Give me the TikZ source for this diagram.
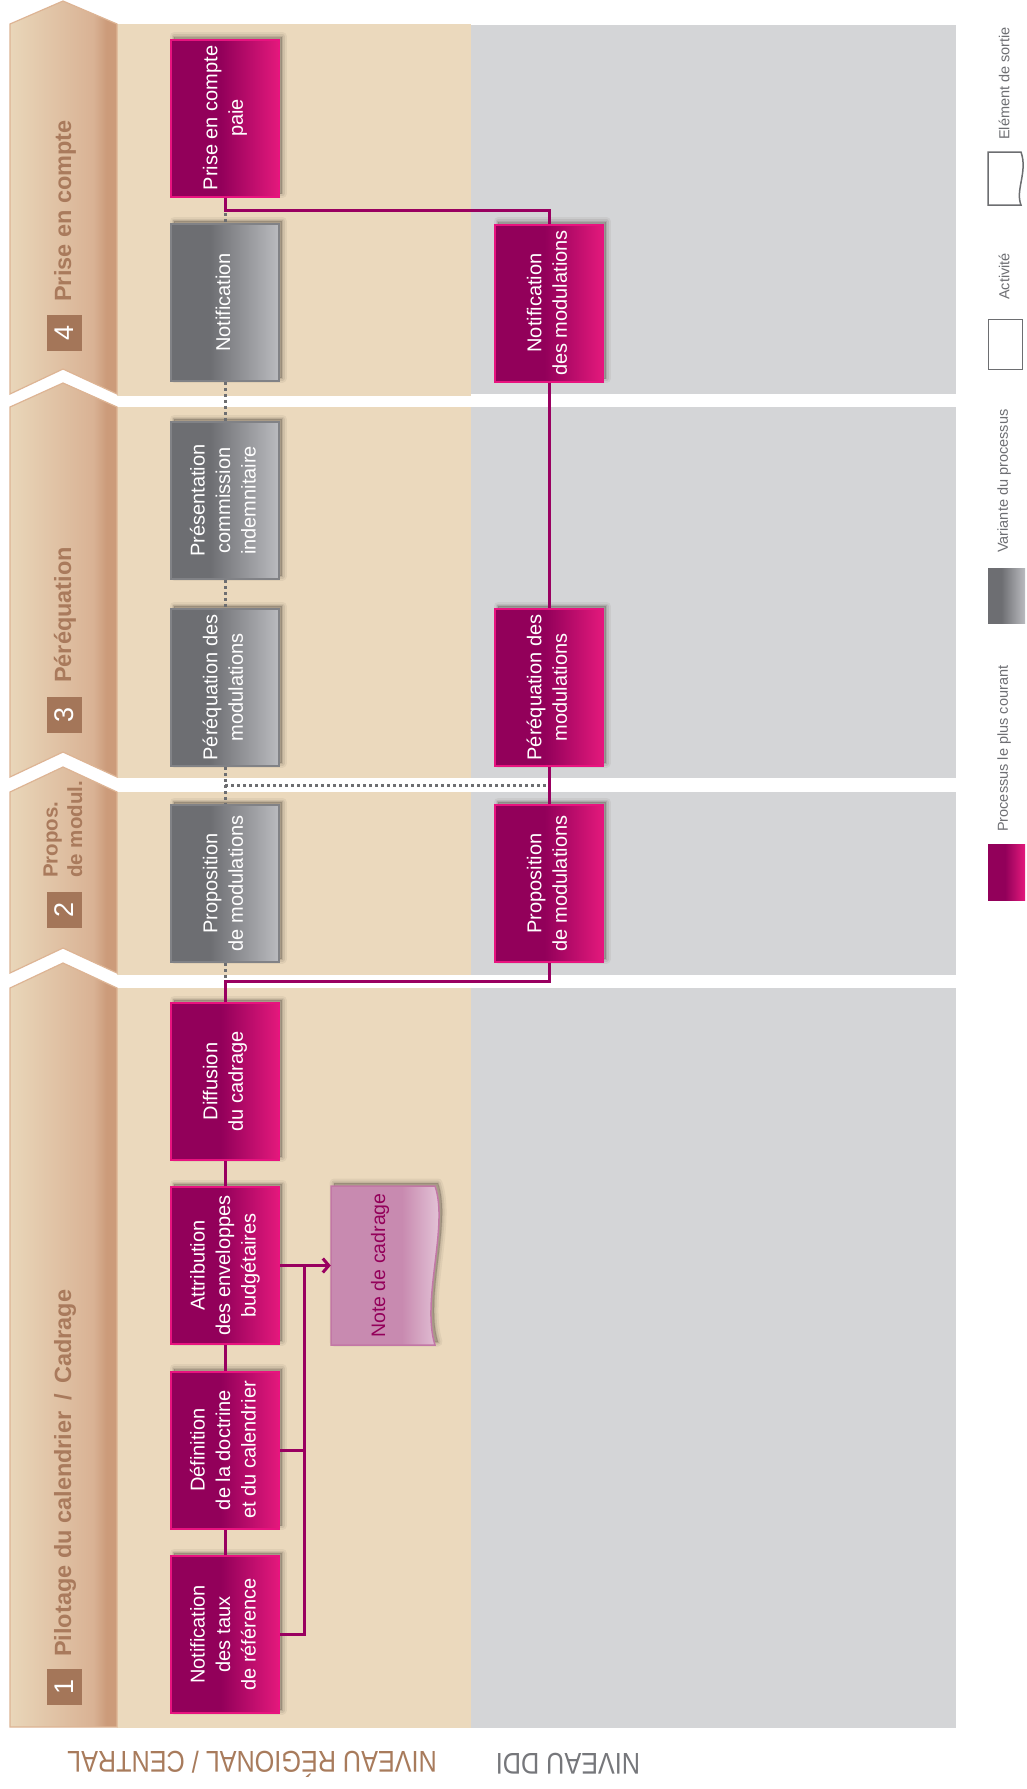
\documentclass[tikz,border=0pt]{standalone}
\usepackage{fontspec}
\setmainfont{Liberation Sans}
\newfontfamily\condfont[FakeStretch=0.84]{Liberation Sans}
\usepackage{graphicx}
\usetikzlibrary{arrows.meta,calc}

\definecolor{beige}{HTML}{EBD9BD}
\definecolor{bandgray}{HTML}{D4D5D7}
\definecolor{mgdark}{HTML}{92005A}
\definecolor{mglight}{HTML}{E3197C}
\definecolor{mgborder}{HTML}{E8137F}
\definecolor{mgline}{HTML}{990060}
\definecolor{grdark}{HTML}{6D6E72}
\definecolor{grlight}{HTML}{BABBBF}
\definecolor{grborder}{HTML}{818286}
\definecolor{dotgray}{HTML}{6D6E71}
\definecolor{chevA}{HTML}{E9D6B9}
\definecolor{chevB}{HTML}{D9B294}
\definecolor{chevC}{HTML}{CC9B7A}
\definecolor{chevedge}{HTML}{DDB494}
\definecolor{numbrown}{HTML}{A47659}
\definecolor{titlebrown}{HTML}{A97A5C}
\definecolor{levelbrown}{HTML}{A87B5C}
\definecolor{levelgray}{HTML}{76777B}
\definecolor{noteA}{HTML}{C88AB0}
\definecolor{noteB}{HTML}{EAD2E0}
\definecolor{noteedge}{HTML}{C277A6}
\definecolor{notetext}{HTML}{93005A}
\definecolor{legtext}{HTML}{6E6F73}
\definecolor{legedge}{HTML}{6D6E71}
\definecolor{shadowc}{HTML}{4A4038}

% horizontal fills: the path's box maps onto 25bp--75bp
\pgfdeclarehorizontalshading{mgshade}{100bp}{color(0bp)=(mgdark); color(25bp)=(mgdark); color(48bp)=(mgdark); color(75bp)=(mglight); color(100bp)=(mglight)}
\pgfdeclarehorizontalshading{grshade}{100bp}{color(0bp)=(grdark); color(25bp)=(grdark); color(43bp)=(grdark); color(75bp)=(grlight); color(100bp)=(grlight)}
\pgfdeclarehorizontalshading{chevshade}{100bp}{color(0bp)=(chevA); color(25bp)=(chevA); color(64bp)=(chevB); color(70bp)=(chevC); color(100bp)=(chevC)}
\pgfdeclarehorizontalshading{noteshade}{100bp}{color(0bp)=(noteA); color(25bp)=(noteA); color(55bp)=(noteA); color(75bp)=(noteB); color(100bp)=(noteB)}

\newcommand{\rt}[1]{\rotatebox{90}{\begin{tabular}{@{}c@{}}#1\end{tabular}}}

\begin{document}
\begin{tikzpicture}[x=1pt,y=-1pt,
  softshadow/.style={
    preaction={draw=shadowc, fill=shadowc, opacity=0.07, line width=9pt, line join=round,
      transform canvas={xshift=3pt, yshift=3pt}},
    preaction={draw=shadowc, fill=shadowc, opacity=0.10, line width=5pt, line join=round,
      transform canvas={xshift=3pt, yshift=3pt}},
    preaction={draw=shadowc, fill=shadowc, opacity=0.14, line width=1.5pt,
      transform canvas={xshift=3pt, yshift=3pt}}},
  box/.style={minimum width=108pt, minimum height=157pt, inner sep=0pt, text=white,
    font=\fontsize{20}{25.5}\selectfont, softshadow},
  mgbox/.style={box, draw=mgborder, line width=2pt, shade, shading=mgshade},
  grbox/.style={box, draw=grborder, line width=1.5pt, shade, shading=grshade},
  chev/.style={shade, shading=chevshade, draw=chevedge, line width=1.2pt},
  numsq/.style={fill=numbrown, text=white, minimum width=36pt, minimum height=35pt,
    inner sep=0pt, rotate=90, font=\fontsize{27}{27}\selectfont},
  phase/.style={text=titlebrown, font=\bfseries\fontsize{23.5}{26}\selectfont,
    rotate=90, anchor=west, inner sep=0pt},
  mgconn/.style={draw=mgline, line width=3pt},
  dots/.style={draw=dotgray, line width=3pt, dash pattern=on 3pt off 3pt},
  level/.style={font=\condfont\fontsize{30}{30}\selectfont, rotate=180, inner sep=0pt},
  legend label/.style={text=legtext, font=\fontsize{14.5}{16}\selectfont, rotate=90,
    anchor=west, inner sep=0pt},
  swatch/.style={minimum width=34pt, minimum height=50pt, inner sep=0pt}
]
\useasboundingbox (0,0) rectangle (1026,1789);
\fill[white] (0,0) rectangle (1026,1789);

% lanes: regional/central (beige) and DDI (grey)
\fill[beige] (117,24) rectangle (471,396);
\fill[beige] (117,407) rectangle (471,778);
\fill[beige] (117,792) rectangle (471,975);
\fill[beige] (117,988) rectangle (471,1728);
\fill[bandgray] (471,25) rectangle (956,394);
\fill[bandgray] (471,407) rectangle (956,778);
\fill[bandgray] (471,792) rectangle (956,975);
\fill[bandgray] (471,988) rectangle (956,1728);

% phase chevrons
\path[chev] (10,24) -- (63,1) -- (117,24) -- (117,394) -- (63,369) -- (10,394) -- cycle;
\path[chev] (10,407) -- (63,383) -- (117,407) -- (117,777) -- (63,752) -- (10,777) -- cycle;
\path[chev] (10,792) -- (63,767) -- (117,792) -- (117,973) -- (63,948) -- (10,973) -- cycle;
\path[chev] (10,988) -- (63,963) -- (117,988) -- (117,1727) -- (10,1727) -- cycle;

% phase labels
\node[numsq] (n4) at (64,332.5) {4};
\node[numsq] (n3) at (64,714.5) {3};
\node[numsq] (n2) at (64,910) {2};
\node[numsq] (n1) at (64,1687) {1};
\node[phase] (t4) at (65,302) {Prise en compte};
\node[phase] (t3) at (65,683) {Péréquation};
\node[phase, align=left, font=\bfseries\fontsize{20.5}{24.5}\selectfont] (t2) at (63,878) {Propos.\\de modul.};
\node[phase] (t1) at (65,1657) {Pilotage du calendrier \,/\, Cadrage};

% activities, regional / central level
\node[mgbox] (pcp) at (225,118) {\rt{Prise en compte\\paie}};
\node[grbox] (notif) at (225,302.5) {\rt{Notification}};
\node[grbox] (pres) at (225,500.5) {\rt{Présentation\\commission\\indemnitaire}};
\node[grbox] (pqgr) at (225,687.5) {\rt{Péréquation des\\modulations}};
\node[grbox] (pmgr) at (225,883.5) {\rt{Proposition\\de modulations}};
\node[mgbox] (diff) at (225,1081.5) {\rt{Diffusion\\du cadrage}};
\node[mgbox] (attr) at (225,1265.5) {\rt{Attribution\\des enveloppes\\budgétaires}};
\node[mgbox] (defin) at (225,1450) {\rt{Définition\\de la doctrine\\et du calendrier}};
\node[mgbox] (ntaux) at (225,1634.5) {\rt{Notification\\des taux\\de référence}};

% activities, DDI level
\node[mgbox] (nmddi) at (549,303) {\rt{Notification\\des modulations}};
\node[mgbox] (pqddi) at (549,687.5) {\rt{Péréquation des\\modulations}};
\node[mgbox] (pmddi) at (549,883.5) {\rt{Proposition\\de modulations}};

% output document
\path[shade, shading=noteshade, draw=noteedge, line width=1.5pt, softshadow]
  (331,1186) -- (435,1186) .. controls (449,1226) and (421,1300) .. (435,1345)
  -- (331,1345) -- cycle;
\node[minimum width=98pt, minimum height=159pt, inner sep=0pt, text=notetext,
  font=\fontsize{19.5}{22}\selectfont] (note) at (380,1265.5) {\rotatebox{90}{Note de cadrage}};

% connectors
\coordinate (j4) at (225,210);
\coordinate (j3) at (225,785);
\coordinate (j2) at (225,981);
\coordinate (bus) at (304,1265.5);
\draw[dots] ([yshift=-3pt]j4) -- (notif.north);
\draw[dots] (notif.south) -- (pres.north);
\draw[dots] (pres.south) -- (pqgr.north);
\draw[dots] (pqgr.south) -- (pmgr.north);
\draw[dots] (pmgr.south) -- (j2);
\draw[dots] (j3) -- (j3 -| pqddi.south);
\draw[mgconn] (pcp.south) -- (j4) -| (nmddi.north);
\draw[mgconn] (nmddi.south) -- (pqddi.north);
\draw[mgconn] (pqddi.south) -- (pmddi.north);
\draw[mgconn] (diff.north) -- (j2) -| (pmddi.south);
\draw[mgconn] (attr.north) -- (diff.south);
\draw[mgconn] (defin.north) -- (attr.south);
\draw[mgconn] (ntaux.north) -- (defin.south);
\draw[mgconn] (ntaux.east) -| (bus);
\draw[mgconn] (defin.east) -- (defin.east -| bus);
\draw[mgconn, -{Straight Barb[length=6pt, width=14pt]}] (attr.east) -- (note.west);

% level names
\node[level, text=levelbrown] (lvreg) at (252,1764) {NIVEAU RÉGIONAL / CENTRAL};
\node[level, text=levelgray] (lvddi) at (568,1764) {NIVEAU DDI};

% legend
\path[draw=legedge, line width=1.5pt, fill=white]
  (988,152) -- (1021,152) .. controls (1028,172) and (1015,190) .. (1021,205)
  -- (988,205) -- cycle;
\node[legend label] (lgout) at (1004,140) {Elément de sortie};
\node[swatch, draw=legedge, line width=1.5pt, fill=white] (swact) at (1005.5,344.5) {};
\node[legend label] (lgact) at (1004,300) {Activité};
\node[swatch, shade, shading=grshade, minimum width=37pt, minimum height=55pt] (swvar) at (1006.5,595.5) {};
\node[legend label] (lgvar) at (1004,553) {Variante du processus};
\node[swatch, shade, shading=mgshade, minimum width=37pt, minimum height=56pt] (swcur) at (1006.5,872) {};
\node[legend label] (lgcur) at (1004,832) {Processus le plus courant};
\end{tikzpicture}
\end{document}
